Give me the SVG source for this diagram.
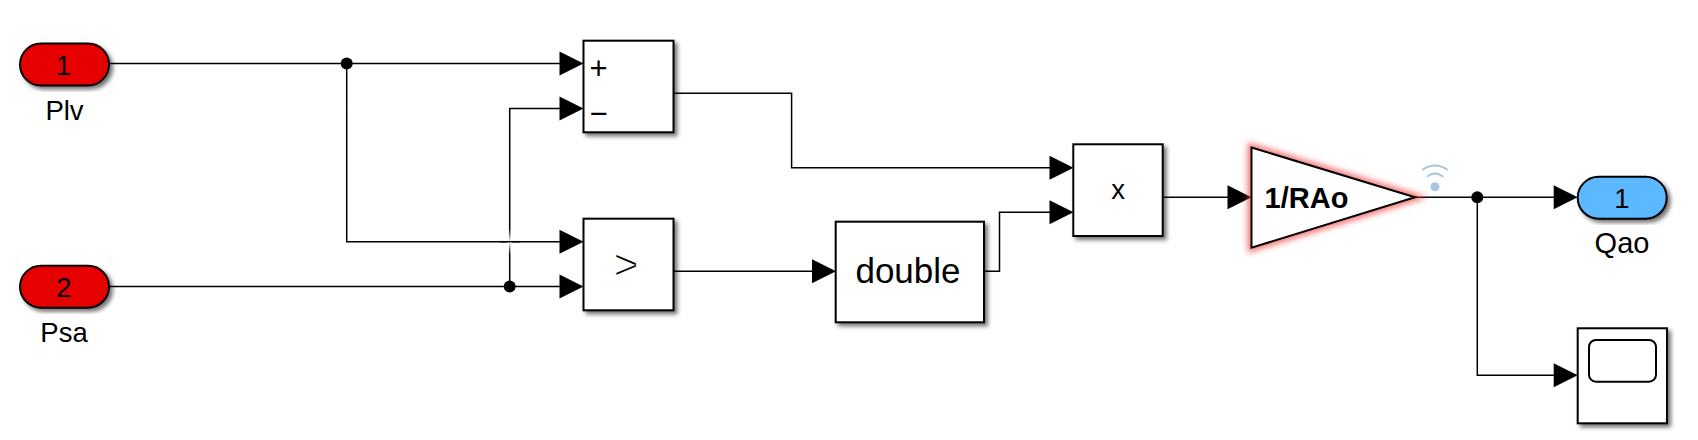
<svg xmlns="http://www.w3.org/2000/svg" width="1698" height="440" viewBox="0 0 1698 440">
<style>
text{font-family:"Liberation Sans",Arial,Helvetica,sans-serif;fill:#000;text-anchor:middle}
.b{fill:#fff;stroke:#000;stroke-width:2;filter:url(#sh)}
.w{fill:none;stroke:#000;stroke-width:1.5}
.a{fill:#000;stroke:none}
.l{font-size:27.5px}
.arc{fill:none;stroke:#a9c5e0;stroke-width:2}
</style>
<defs>
<filter id="sh" x="-15%" y="-15%" width="130%" height="130%"><feDropShadow dx="3" dy="3" stdDeviation="2" flood-color="#000" flood-opacity="0.55"/></filter>
<filter id="glow" x="-15%" y="-15%" width="130%" height="130%"><feGaussianBlur stdDeviation="3"/></filter>
<linearGradient id="fade" x1="0" y1="0" x2="0" y2="1"><stop offset="0" stop-color="#fff" stop-opacity="0"/><stop offset="0.5" stop-color="#fff" stop-opacity="1"/><stop offset="1" stop-color="#fff" stop-opacity="0"/></linearGradient>
<path id="ah" d="M-24 -12L0 0L-24 12Z"/>
</defs>
<rect width="1698" height="440" fill="#fff"/>
<g id="connectors">
<path class="w" d="M109 63.5H560M346.7 63.5V241.7H560M109 286.5H560M509.7 286.5V108.5H560M673.5 93.3H791.6V167.7H1050M673.5 271.3H813M984 271.3H999.5V212.3H1050M1162.7 197.3H1229M1415 197.3H1555M1477.3 197.3V375.3H1555"/>
<rect x="507" y="229" width="5.4" height="25.4" fill="url(#fade)"/>
<path class="w" d="M500 241.7H520"/>
<circle class="a" cx="346.7" cy="63.5" r="6"/>
<circle class="a" cx="509.7" cy="286.5" r="6"/>
<circle class="a" cx="1477.3" cy="197.3" r="6"/>
<use href="#ah" class="a" x="583.5" y="63.5"/>
<use href="#ah" class="a" x="583.5" y="108.5"/>
<use href="#ah" class="a" x="583.5" y="241.7"/>
<use href="#ah" class="a" x="583.5" y="286.5"/>
<use href="#ah" class="a" x="836" y="271.3"/>
<use href="#ah" class="a" x="1073.5" y="167.7"/>
<use href="#ah" class="a" x="1073.5" y="212.3"/>
<use href="#ah" class="a" x="1251.5" y="197.3"/>
<use href="#ah" class="a" x="1577.7" y="197.3"/>
<use href="#ah" class="a" x="1577.7" y="375.3"/>
</g>
<g id="inport-plv">
<rect class="b" x="20" y="43.5" width="89" height="42" rx="21" style="fill:#e60000"/>
<text class="l" x="63.5" y="75">1</text>
<text class="l" x="64.5" y="120">Plv</text>
</g>
<g id="inport-psa">
<rect class="b" x="20" y="265.7" width="89" height="42" rx="21" style="fill:#e60000"/>
<text class="l" x="64" y="297.3">2</text>
<text class="l" x="64" y="341.7">Psa</text>
</g>
<g id="sum">
<rect class="b" x="583.5" y="40.7" width="90" height="91.6"/>
<text x="598.5" y="78.5" style="font-size:31px">+</text>
<text x="598.5" y="123.5" style="font-size:31px">−</text>
</g>
<g id="compare">
<rect class="b" x="583.5" y="218.7" width="90" height="91.6"/>
<text x="626" y="279" style="font-size:43px;stroke:#fff;stroke-width:1.1px">&gt;</text>
</g>
<g id="double">
<rect class="b" x="835.7" y="221.7" width="148.3" height="100.6"/>
<text x="908" y="282.5" style="font-size:35px">double</text>
</g>
<g id="product">
<rect class="b" x="1073.3" y="144.3" width="89.4" height="91.7"/>
<text class="l" x="1118" y="199">x</text>
</g>
<g id="gain">
<path d="M1251.5 147.5L1415 197.3L1251.5 247.7Z" fill="none" stroke="#f03030" stroke-width="7" opacity="0.75" filter="url(#glow)"/>
<path d="M1251.5 147.5L1415 197.3L1251.5 247.7Z" fill="#fff" stroke="#000" stroke-width="2"/>
<text x="1306.5" y="207.7" style="font-size:29px;font-weight:bold">1/RAo</text>
<circle cx="1435" cy="186.7" r="4.5" fill="#a9c5e0"/>
<path class="arc" d="M1427 176.7Q1435 170 1443.3 176.7"/>
<path class="arc" d="M1422 170Q1435 161 1448 170"/>
</g>
<g id="outport-qao">
<rect class="b" x="1577.7" y="176.7" width="89" height="42" rx="21" style="fill:#5cb8ff"/>
<text class="l" x="1622" y="207.7">1</text>
<text x="1622" y="253.3" style="font-size:29px">Qao</text>
</g>
<g id="scope">
<rect class="b" x="1577.7" y="328.3" width="89.3" height="95"/>
<rect x="1589" y="340" width="67" height="41.7" rx="7" fill="#fff" stroke="#000" stroke-width="2"/>
</g>
</svg>
